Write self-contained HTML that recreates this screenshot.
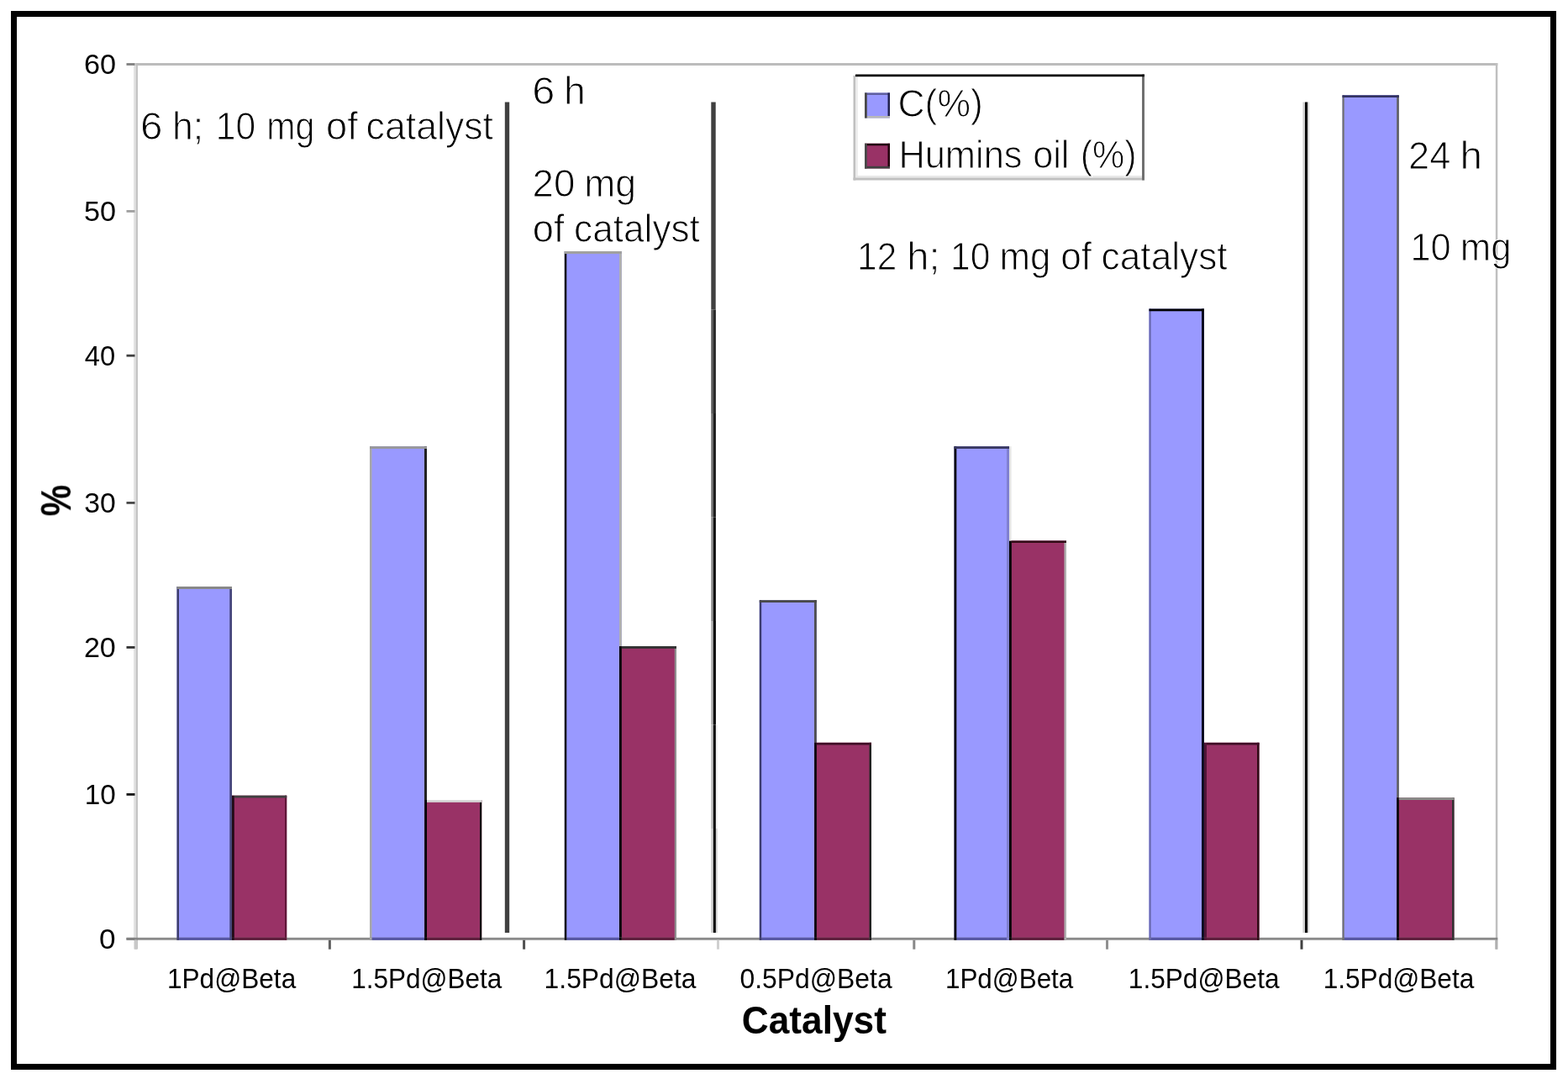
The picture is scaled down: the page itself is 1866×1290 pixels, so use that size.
<!DOCTYPE html>
<html lang="en"><head><meta charset="utf-8"><title>Catalyst chart</title>
<style>html,body{margin:0;padding:0;background:#fff;}body{width:1866px;height:1290px;overflow:hidden;}svg{display:block;}text{font-family:"Liberation Sans",sans-serif;fill:#000;}</style>
</head><body>
<svg width="1866" height="1290" viewBox="0 0 1866 1290" role="img" aria-label="Bar chart of C(%) and Humins oil (%) by catalyst">
<defs><filter id="b" x="-5%" y="-5%" width="110%" height="110%"><feGaussianBlur stdDeviation="0.35"/></filter><filter id="bt" x="-5%" y="-20%" width="110%" height="140%"><feGaussianBlur stdDeviation="0.45"/></filter></defs>
<rect width="1866" height="1290" fill="#fff"/>
<rect x="16.5" y="16.5" width="1832" height="1253" fill="none" stroke="#000" stroke-width="7"/>
<g filter="url(#b)">
<rect x="159.0" y="75.0" width="2.5" height="1054.5" fill="#e2e2e2"/>
<rect x="161.5" y="75.0" width="2.5" height="1054.5" fill="#c4c4c4"/>
<rect x="161.5" y="75.0" width="1620.8" height="3.0" fill="#bcbcbc"/>
<rect x="1779.8" y="75.0" width="2.5" height="1054.5" fill="#c0c0c0"/>
<rect x="150.5" y="1115.9" width="10.0" height="2.8" fill="#808080"/>
<rect x="150.5" y="944.0" width="10.0" height="2.8" fill="#141414"/>
<rect x="150.5" y="769.0" width="10.0" height="2.8" fill="#303030"/>
<rect x="150.5" y="597.0" width="10.0" height="2.8" fill="#484848"/>
<rect x="150.5" y="421.8" width="10.0" height="2.8" fill="#404040"/>
<rect x="150.5" y="250.0" width="10.0" height="2.8" fill="#a0a0a0"/>
<rect x="150.5" y="75.1" width="10.0" height="2.8" fill="#808080"/>
<rect x="210.5" y="698.0" width="65.5" height="420.7" fill="#9999ff"/>
<rect x="273.3" y="698.0" width="2.7" height="420.7" fill="#44447a"/>
<rect x="210.5" y="698.0" width="2.5" height="420.7" fill="#3c3c6c"/>
<rect x="210.5" y="698.0" width="65.5" height="3.0" fill="#888888"/>
<rect x="276.0" y="946.7" width="65.2" height="172.0" fill="#993366"/>
<rect x="339.0" y="946.7" width="2.2" height="172.0" fill="#601838"/>
<rect x="276.0" y="946.7" width="2.8" height="172.0" fill="#200818"/>
<rect x="278.8" y="946.7" width="62.4" height="2.8" fill="#404040"/>
<rect x="440.0" y="531.2" width="68.0" height="587.5" fill="#9999ff"/>
<rect x="505.0" y="531.2" width="3.0" height="587.5" fill="#202020"/>
<rect x="440.0" y="531.2" width="2.5" height="587.5" fill="#a8a8a8"/>
<rect x="440.0" y="531.2" width="68.0" height="2.8" fill="#989898"/>
<rect x="505.3" y="952.0" width="67.9" height="166.7" fill="#993366"/>
<rect x="571.0" y="952.0" width="2.2" height="166.7" fill="#000000"/>
<rect x="505.3" y="952.0" width="2.7" height="166.7" fill="#000000"/>
<rect x="508.0" y="952.0" width="65.2" height="2.8" fill="#d8d8d8"/>
<rect x="671.8" y="299.0" width="68.0" height="819.7" fill="#9999ff"/>
<rect x="737.0" y="299.0" width="2.8" height="819.7" fill="#b0b0b0"/>
<rect x="671.8" y="299.0" width="2.5" height="819.7" fill="#101010"/>
<rect x="671.8" y="299.0" width="68.0" height="3.0" fill="#a0a0a0"/>
<rect x="737.0" y="769.0" width="68.0" height="349.7" fill="#993366"/>
<rect x="802.8" y="769.0" width="2.2" height="349.7" fill="#909090"/>
<rect x="737.0" y="769.0" width="2.8" height="349.7" fill="#000000"/>
<rect x="739.8" y="769.0" width="65.2" height="2.8" fill="#303030"/>
<rect x="903.8" y="714.2" width="68.0" height="404.5" fill="#9999ff"/>
<rect x="969.0" y="714.2" width="2.8" height="404.5" fill="#505050"/>
<rect x="903.8" y="714.2" width="2.4" height="404.5" fill="#3c3c70"/>
<rect x="903.8" y="714.2" width="68.0" height="2.8" fill="#484848"/>
<rect x="969.2" y="883.8" width="67.8" height="234.9" fill="#993366"/>
<rect x="1034.5" y="883.8" width="2.5" height="234.9" fill="#202020"/>
<rect x="969.2" y="883.8" width="2.6" height="234.9" fill="#000000"/>
<rect x="971.8" y="883.8" width="65.2" height="2.7" fill="#401028"/>
<rect x="1135.5" y="531.2" width="65.5" height="587.5" fill="#9999ff"/>
<rect x="1198.0" y="531.2" width="3.0" height="587.5" fill="#8080d0"/>
<rect x="1135.5" y="531.2" width="2.8" height="587.5" fill="#000000"/>
<rect x="1135.5" y="531.2" width="65.5" height="2.8" fill="#383860"/>
<rect x="1201.0" y="643.5" width="68.0" height="475.2" fill="#993366"/>
<rect x="1266.5" y="643.5" width="2.5" height="475.2" fill="#b0b0b0"/>
<rect x="1201.0" y="643.5" width="2.8" height="475.2" fill="#000000"/>
<rect x="1203.8" y="643.5" width="65.2" height="2.5" fill="#300818"/>
<rect x="1367.5" y="367.5" width="65.5" height="751.2" fill="#9999ff"/>
<rect x="1430.0" y="367.5" width="3.0" height="751.2" fill="#101020"/>
<rect x="1367.5" y="367.5" width="2.2" height="751.2" fill="#6868b0"/>
<rect x="1367.5" y="367.5" width="65.5" height="2.8" fill="#000000"/>
<rect x="1433.0" y="883.8" width="65.5" height="234.9" fill="#993366"/>
<rect x="1496.0" y="883.8" width="2.5" height="234.9" fill="#300818"/>
<rect x="1433.0" y="883.8" width="3.0" height="234.9" fill="#501838"/>
<rect x="1436.0" y="883.8" width="62.5" height="2.7" fill="#401028"/>
<rect x="1597.5" y="113.3" width="67.3" height="1005.4" fill="#9999ff"/>
<rect x="1662.2" y="113.3" width="2.6" height="1005.4" fill="#606060"/>
<rect x="1597.5" y="113.3" width="2.2" height="1005.4" fill="#707070"/>
<rect x="1597.5" y="113.3" width="67.3" height="2.7" fill="#303060"/>
<rect x="1662.2" y="949.2" width="68.3" height="169.5" fill="#993366"/>
<rect x="1728.0" y="949.2" width="2.5" height="169.5" fill="#303030"/>
<rect x="1662.2" y="949.2" width="2.6" height="169.5" fill="#000000"/>
<rect x="1664.8" y="949.2" width="65.7" height="2.8" fill="#888c88"/>
<rect x="1201.0" y="531.2" width="2.5" height="112.3" fill="#e4e4e4"/>
<rect x="150.5" y="1115.8" width="1631.8" height="2.9" fill="#808080" fill-opacity="0.92"/>
<rect x="213.0" y="1115.8" width="60.3" height="2.9" fill="#5454a4"/>
<rect x="210.5" y="1115.8" width="2.5" height="2.9" fill="#3c3c6c"/>
<rect x="273.3" y="1115.8" width="2.7" height="2.9" fill="#44447a"/>
<rect x="278.8" y="1115.8" width="60.2" height="2.9" fill="#5c1a3a"/>
<rect x="276.0" y="1115.8" width="2.8" height="2.9" fill="#200818"/>
<rect x="339.0" y="1115.8" width="2.2" height="2.9" fill="#601838"/>
<rect x="442.5" y="1115.8" width="62.5" height="2.9" fill="#5454a4"/>
<rect x="440.0" y="1115.8" width="2.5" height="2.9" fill="#a8a8a8"/>
<rect x="505.0" y="1115.8" width="3.0" height="2.9" fill="#202020"/>
<rect x="508.0" y="1115.8" width="63.0" height="2.9" fill="#5c1a3a"/>
<rect x="505.3" y="1115.8" width="2.7" height="2.9" fill="#000000"/>
<rect x="571.0" y="1115.8" width="2.2" height="2.9" fill="#000000"/>
<rect x="674.3" y="1115.8" width="62.7" height="2.9" fill="#5454a4"/>
<rect x="671.8" y="1115.8" width="2.5" height="2.9" fill="#101010"/>
<rect x="737.0" y="1115.8" width="2.8" height="2.9" fill="#b0b0b0"/>
<rect x="739.8" y="1115.8" width="63.0" height="2.9" fill="#5c1a3a"/>
<rect x="737.0" y="1115.8" width="2.8" height="2.9" fill="#000000"/>
<rect x="802.8" y="1115.8" width="2.2" height="2.9" fill="#909090"/>
<rect x="906.2" y="1115.8" width="62.8" height="2.9" fill="#5454a4"/>
<rect x="903.8" y="1115.8" width="2.4" height="2.9" fill="#3c3c70"/>
<rect x="969.0" y="1115.8" width="2.8" height="2.9" fill="#505050"/>
<rect x="971.8" y="1115.8" width="62.7" height="2.9" fill="#5c1a3a"/>
<rect x="969.2" y="1115.8" width="2.6" height="2.9" fill="#000000"/>
<rect x="1034.5" y="1115.8" width="2.5" height="2.9" fill="#202020"/>
<rect x="1138.3" y="1115.8" width="59.7" height="2.9" fill="#5454a4"/>
<rect x="1135.5" y="1115.8" width="2.8" height="2.9" fill="#000000"/>
<rect x="1198.0" y="1115.8" width="3.0" height="2.9" fill="#8080d0"/>
<rect x="1203.8" y="1115.8" width="62.7" height="2.9" fill="#5c1a3a"/>
<rect x="1201.0" y="1115.8" width="2.8" height="2.9" fill="#000000"/>
<rect x="1266.5" y="1115.8" width="2.5" height="2.9" fill="#b0b0b0"/>
<rect x="1369.7" y="1115.8" width="60.3" height="2.9" fill="#5454a4"/>
<rect x="1367.5" y="1115.8" width="2.2" height="2.9" fill="#6868b0"/>
<rect x="1430.0" y="1115.8" width="3.0" height="2.9" fill="#101020"/>
<rect x="1436.0" y="1115.8" width="60.0" height="2.9" fill="#5c1a3a"/>
<rect x="1433.0" y="1115.8" width="3.0" height="2.9" fill="#501838"/>
<rect x="1496.0" y="1115.8" width="2.5" height="2.9" fill="#300818"/>
<rect x="1599.7" y="1115.8" width="62.5" height="2.9" fill="#5454a4"/>
<rect x="1597.5" y="1115.8" width="2.2" height="2.9" fill="#707070"/>
<rect x="1662.2" y="1115.8" width="2.6" height="2.9" fill="#606060"/>
<rect x="1664.8" y="1115.8" width="63.2" height="2.9" fill="#5c1a3a"/>
<rect x="1662.2" y="1115.8" width="2.6" height="2.9" fill="#000000"/>
<rect x="1728.0" y="1115.8" width="2.5" height="2.9" fill="#303030"/>
<rect x="160.0" y="1118.7" width="3.0" height="11.0" fill="#c8c8c8"/>
<rect x="390.9" y="1118.7" width="3.0" height="11.0" fill="#606060"/>
<rect x="622.1" y="1118.7" width="3.0" height="11.0" fill="#505050"/>
<rect x="853.0" y="1118.7" width="3.0" height="11.0" fill="#d0d0d0"/>
<rect x="1086.3" y="1118.7" width="3.0" height="11.0" fill="#888888"/>
<rect x="1316.0" y="1118.7" width="3.0" height="11.0" fill="#909090"/>
<rect x="1547.5" y="1118.7" width="3.0" height="11.0" fill="#404040"/>
<rect x="1779.3" y="1118.7" width="3.0" height="11.0" fill="#b0b0b0"/>
<rect x="600.8" y="121.5" width="5.4" height="988.5" fill="#404040"/>
<rect x="846.3" y="121.5" width="5.4" height="247.0" fill="#404040"/>
<rect x="846.3" y="368.5" width="2.6" height="123.5" fill="#565656"/>
<rect x="848.9" y="368.5" width="3.0" height="123.5" fill="#2a2a2a"/>
<rect x="846.3" y="492.0" width="2.6" height="123.5" fill="#6e6e6e"/>
<rect x="848.9" y="492.0" width="3.0" height="123.5" fill="#1a1a1a"/>
<rect x="846.3" y="615.5" width="2.6" height="123.5" fill="#888888"/>
<rect x="848.9" y="615.5" width="3.0" height="123.5" fill="#0e0e0e"/>
<rect x="846.3" y="739.0" width="2.6" height="123.5" fill="#a8a8a8"/>
<rect x="848.9" y="739.0" width="3.0" height="123.5" fill="#000000"/>
<rect x="846.3" y="862.5" width="2.6" height="123.5" fill="#b8b8b8"/>
<rect x="848.9" y="862.5" width="3.0" height="123.5" fill="#000000"/>
<rect x="851.9" y="862.5" width="1.9" height="123.5" fill="#f0f0f0"/>
<rect x="846.3" y="986.0" width="2.6" height="124.0" fill="#cccccc"/>
<rect x="848.9" y="986.0" width="3.0" height="124.0" fill="#000000"/>
<rect x="851.9" y="986.0" width="1.9" height="124.0" fill="#d4d4d4"/>
<rect x="1550.4" y="121.5" width="2.6" height="988.5" fill="#d0d0d0"/>
<rect x="1553.0" y="121.5" width="3.2" height="988.5" fill="#000000"/>
<rect x="1556.2" y="121.5" width="1.8" height="988.5" fill="#d8d8d8"/>
<rect x="1015.5" y="88.5" width="346.5" height="126.0" fill="#ffffff"/>
<rect x="1015.5" y="90.0" width="2.8" height="124.5" fill="#c0c0c0"/>
<rect x="1018.3" y="90.0" width="2.5" height="121.5" fill="#ebebeb"/>
<rect x="1018.3" y="209.0" width="343.7" height="2.5" fill="#e8e8e8"/>
<rect x="1015.5" y="211.5" width="346.5" height="3.0" fill="#c0c0c0"/>
<rect x="1359.0" y="88.5" width="3.0" height="126.0" fill="#707070"/>
<rect x="1018.0" y="88.5" width="344.0" height="2.7" fill="#000000"/>
<rect x="1029.0" y="110.5" width="30.0" height="30.0" fill="#9999ff"/>
<rect x="1029.0" y="110.5" width="30.0" height="2.5" fill="#6060a0"/>
<rect x="1029.0" y="138.0" width="30.0" height="2.5" fill="#b8b8b8"/>
<rect x="1029.0" y="110.5" width="2.8" height="30.0" fill="#484848"/>
<rect x="1056.5" y="110.5" width="2.5" height="27.5" fill="#202050"/>
<rect x="1029.0" y="170.8" width="30.0" height="29.7" fill="#993366"/>
<rect x="1029.0" y="170.8" width="30.0" height="2.5" fill="#200010"/>
<rect x="1029.0" y="197.8" width="30.0" height="2.7" fill="#404040"/>
<rect x="1029.0" y="170.8" width="2.8" height="29.7" fill="#484848"/>
<rect x="1056.5" y="170.8" width="2.5" height="27.2" fill="#200010"/>
</g>
<g filter="url(#bt)">
<text transform="translate(118.09,1129.20) scale(1.0379,1)" font-size="33.9">0</text>
<text transform="translate(100.80,957.30) scale(0.9818,1)" font-size="33.9">10</text>
<text transform="translate(99.89,782.30) scale(1.0068,1)" font-size="33.9">20</text>
<text transform="translate(100.34,610.30) scale(0.9947,1)" font-size="33.9">30</text>
<text transform="translate(100.66,435.10) scale(0.9664,1)" font-size="33.9">40</text>
<text transform="translate(99.93,263.30) scale(1.0085,1)" font-size="33.9">50</text>
<text transform="translate(99.99,88.40) scale(1.0097,1)" font-size="33.9">60</text>
<text transform="translate(198.93,1175.50) scale(0.9322,1)" font-size="33.9">1Pd@Beta</text>
<text transform="translate(418.14,1175.50) scale(0.9291,1)" font-size="33.9">1.5Pd@Beta</text>
<text transform="translate(647.61,1175.50) scale(0.9386,1)" font-size="33.9">1.5Pd@Beta</text>
<text transform="translate(880.42,1175.50) scale(0.9406,1)" font-size="33.9">0.5Pd@Beta</text>
<text transform="translate(1124.94,1175.50) scale(0.9267,1)" font-size="33.9">1Pd@Beta</text>
<text transform="translate(1342.83,1175.50) scale(0.9323,1)" font-size="33.9">1.5Pd@Beta</text>
<text transform="translate(1574.63,1175.50) scale(0.9323,1)" font-size="33.9">1.5Pd@Beta</text>
<text transform="translate(882.83,1230.30) scale(0.9725,1)" font-size="45.5" font-weight="bold">Catalyst</text>
<text transform="translate(84.6,614.3) rotate(-90) scale(1,1.2)" font-size="42" font-weight="bold">%</text>
</g>
<g filter="url(#bt)" stroke="#fff" stroke-width="1.0" paint-order="fill stroke">
<text y="138.50" font-size="46.0"><tspan x="1068.48" textLength="101.30" lengthAdjust="spacingAndGlyphs">C(%)</tspan></text>
<text y="200.30" font-size="46.0"><tspan x="1069.42" textLength="147.09" lengthAdjust="spacingAndGlyphs">Humins</tspan> <tspan x="1229.16" textLength="43.28" lengthAdjust="spacingAndGlyphs">oil</tspan> <tspan x="1285.81" textLength="66.88" lengthAdjust="spacingAndGlyphs">(%)</tspan></text>
<text y="166.00" font-size="46.0"><tspan x="167.12" textLength="26.46" lengthAdjust="spacingAndGlyphs">6</tspan> <tspan x="204.88" textLength="37.21" lengthAdjust="spacingAndGlyphs">h;</tspan> <tspan x="256.80" textLength="47.39" lengthAdjust="spacingAndGlyphs">10</tspan> <tspan x="317.22" textLength="57.11" lengthAdjust="spacingAndGlyphs">mg</tspan> <tspan x="388.08" textLength="37.68" lengthAdjust="spacingAndGlyphs">of</tspan> <tspan x="435.60" textLength="151.44" lengthAdjust="spacingAndGlyphs">catalyst</tspan></text>
<text y="124.00" font-size="46.0"><tspan x="633.37" textLength="27.06" lengthAdjust="spacingAndGlyphs">6</tspan> <tspan x="670.95" textLength="25.82" lengthAdjust="spacingAndGlyphs">h</tspan></text>
<text y="233.50" font-size="46.0"><tspan x="633.52" textLength="50.80" lengthAdjust="spacingAndGlyphs">20</tspan> <tspan x="695.30" textLength="61.75" lengthAdjust="spacingAndGlyphs">mg</tspan></text>
<text y="287.50" font-size="46.0"><tspan x="633.87" textLength="37.78" lengthAdjust="spacingAndGlyphs">of</tspan> <tspan x="683.12" textLength="149.72" lengthAdjust="spacingAndGlyphs">catalyst</tspan></text>
<text y="321.00" font-size="46.0"><tspan x="1020.12" textLength="47.09" lengthAdjust="spacingAndGlyphs">12</tspan> <tspan x="1079.20" textLength="39.31" lengthAdjust="spacingAndGlyphs">h;</tspan> <tspan x="1131.00" textLength="47.39" lengthAdjust="spacingAndGlyphs">10</tspan> <tspan x="1189.55" textLength="60.76" lengthAdjust="spacingAndGlyphs">mg</tspan> <tspan x="1262.32" textLength="36.83" lengthAdjust="spacingAndGlyphs">of</tspan> <tspan x="1310.62" textLength="150.02" lengthAdjust="spacingAndGlyphs">catalyst</tspan></text>
<text y="200.80" font-size="46.0"><tspan x="1676.04" textLength="50.31" lengthAdjust="spacingAndGlyphs">24</tspan> <tspan x="1737.47" textLength="26.48" lengthAdjust="spacingAndGlyphs">h</tspan></text>
<text y="310.20" font-size="46.0"><tspan x="1678.44" textLength="48.29" lengthAdjust="spacingAndGlyphs">10</tspan> <tspan x="1737.85" textLength="60.76" lengthAdjust="spacingAndGlyphs">mg</tspan></text>
</g>
</svg>
</body></html>
